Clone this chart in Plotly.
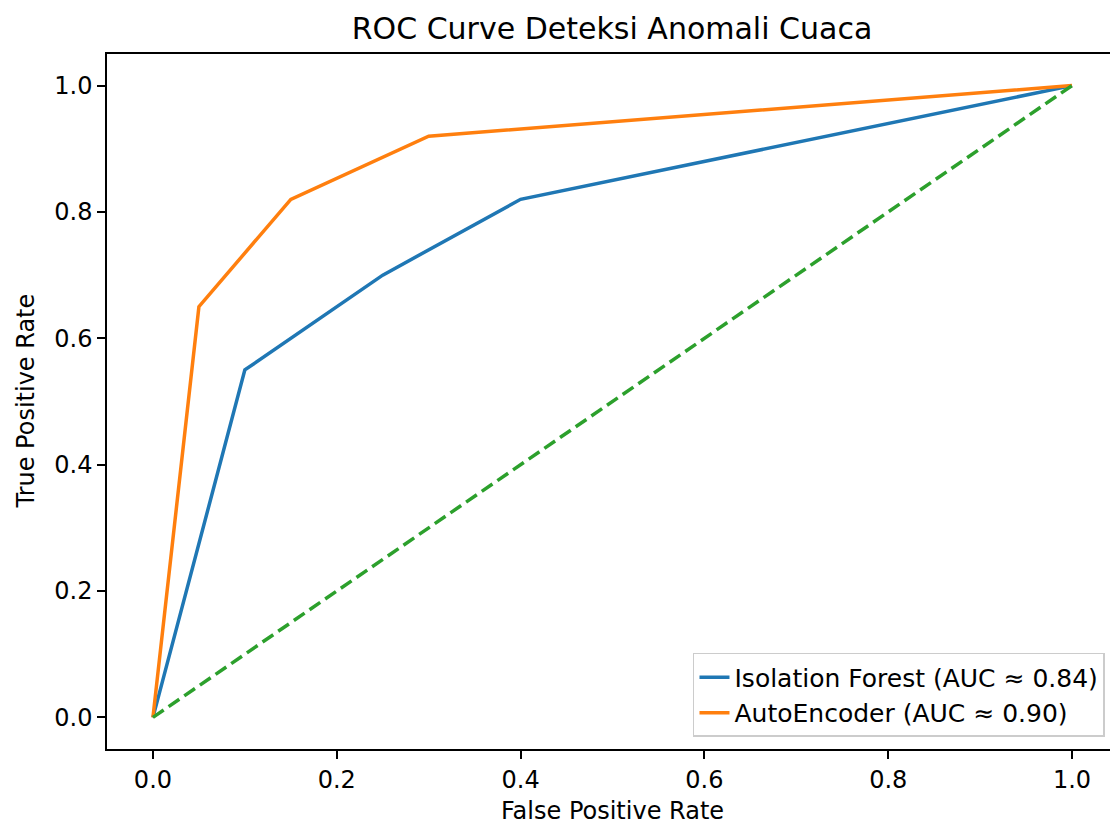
import plotly.graph_objects as go

# Data
if_fpr = [0.0, 0.1, 0.25, 0.4, 1.0]
if_tpr = [0.0, 0.55, 0.70, 0.82, 1.0]
ae_fpr = [0.0, 0.05, 0.15, 0.3, 1.0]
ae_tpr = [0.0, 0.65, 0.82, 0.92, 1.0]
diag_x = [0.0, 1.0]
diag_y = [0.0, 1.0]
if_name = "Isolation Forest (AUC ≈ 0.84)"
ae_name = "AutoEncoder (AUC ≈ 0.90)"
x_ticks = [0.0, 0.2, 0.4, 0.6, 0.8, 1.0]
y_ticks = [0.0, 0.2, 0.4, 0.6, 0.8, 1.0]
title_text = "ROC Curve Deteksi Anomali Cuaca"
x_title = "False Positive Rate"
y_title = "True Positive Rate"

FONT = "DejaVu Sans"
BLACK = "#000000"

fig = go.Figure()
fig.add_trace(go.Scatter(x=if_fpr, y=if_tpr, mode="lines", name=if_name,
                         line=dict(color="#1f77b4", width=3.5)))
fig.add_trace(go.Scatter(x=ae_fpr, y=ae_tpr, mode="lines", name=ae_name,
                         line=dict(color="#ff7f0e", width=3.5)))
fig.add_trace(go.Scatter(x=diag_x, y=diag_y, mode="lines", showlegend=False,
                         line=dict(color="#2ca02c", width=3.5, dash="13px,6px")))

fig.update_layout(
    width=1110, height=825,
    margin=dict(l=107, r=0, t=54, b=76, autoexpand=False),
    paper_bgcolor="white", plot_bgcolor="white",
    font=dict(family=FONT, size=24, color=BLACK),
    title=dict(text=title_text, x=0.5035, xref="paper",
               xanchor="center", y=1 - 28 / 825, yref="container", yanchor="middle",
               font=dict(family=FONT, size=30, color=BLACK)),
    legend=dict(x=0.995, y=0.0173, xanchor="right", yanchor="bottom",
                bordercolor="#cccccc", borderwidth=1.5, bgcolor="rgba(255,255,255,0.8)",
                font=dict(family=FONT, size=25, color=BLACK),
                tracegroupgap=0),
    showlegend=True,
    annotations=[
        dict(text=x_title, xref="paper", yref="paper", x=0.5035, y=(749 - 811) / 695,
             xanchor="center", yanchor="middle", showarrow=False,
             font=dict(family=FONT, size=24, color=BLACK)),
        dict(text=y_title, xref="paper", yref="paper", x=(25 - 107) / 1003, y=0.5,
             xanchor="center", yanchor="middle", textangle=-90, showarrow=False,
             font=dict(family=FONT, size=24, color=BLACK)),
    ],
)
fig.update_xaxes(range=[-0.05, 1.0413], tickvals=x_ticks, ticktext=[f"{v:.1f}" for v in x_ticks],
                 automargin=False,
                 showgrid=False, zeroline=False, showline=True, linecolor=BLACK, linewidth=1.5,
                 mirror=True, ticks="outside", ticklen=8, tickwidth=1.5, tickcolor=BLACK,
                 tickfont=dict(family=FONT, size=24, color=BLACK))
fig.update_yaxes(range=[-0.05, 1.05], tickvals=y_ticks, ticktext=[f"{v:.1f}" for v in y_ticks],
                 automargin=False,
                 showgrid=False, zeroline=False, showline=True, linecolor=BLACK, linewidth=1.5,
                 mirror=False, ticks="outside", ticklen=8, tickwidth=1.5, tickcolor=BLACK,
                 tickfont=dict(family=FONT, size=24, color=BLACK))

fig.write_html("out.html", config={"displayModeBar": False},
               post_script="document.body.style.margin='0';document.body.style.overflow='hidden';")
